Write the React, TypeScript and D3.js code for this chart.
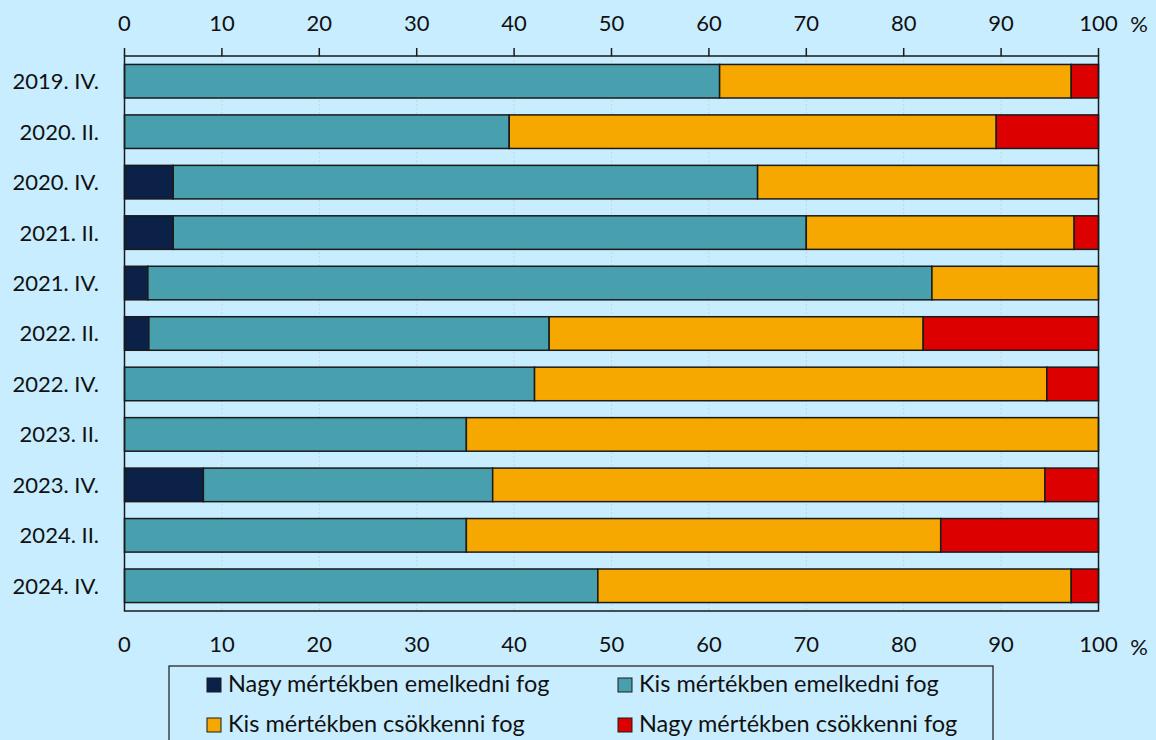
import * as d3 from "d3";

const WIDTH = 1156;
const HEIGHT = 740;

const periods = [
  "2019. IV.",
  "2020. II.",
  "2020. IV.",
  "2021. II.",
  "2021. IV.",
  "2022. II.",
  "2022. IV.",
  "2023. II.",
  "2023. IV.",
  "2024. II.",
  "2024. IV.",
];

const seriesNames = [
  "Nagy mértékben emelkedni fog",
  "Kis mértékben emelkedni fog",
  "Kis mértékben csökkenni fog",
  "Nagy mértékben csökkenni fog",
];
const seriesColors = ["#0c2148", "#48a0af", "#f6a800", "#dc0000"];

const bigRise = [0, 0, 5.0, 5.0, 2.4, 2.5, 0, 0, 8.1, 0, 0];
const smallRise = [61.1, 39.5, 60.0, 65.0, 80.5, 41.1, 42.1, 35.1, 29.7, 35.1, 48.6];
const smallFall = [36.1, 50.0, 35.0, 27.5, 17.1, 38.4, 52.6, 64.9, 56.7, 48.7, 48.6];
const bigFall = [2.8, 10.5, 0, 2.5, 0, 18.0, 5.3, 0, 5.5, 16.2, 2.8];

const xTicks = [0, 10, 20, 30, 40, 50, 60, 70, 80, 90, 100];

const rows = periods.map((p, i) => ({
  period: p,
  v0: bigRise[i],
  v1: smallRise[i],
  v2: smallFall[i],
  v3: bigFall[i],
}));

const stack = d3.stack<any>().keys(["v0", "v1", "v2", "v3"]);
const stacked = stack(rows);

const x = d3.scaleLinear().domain([0, 100]).range([124.5, 1098.5]);
const y = d3
  .scaleBand()
  .domain(periods)
  .range([56, 611])
  .paddingInner(0.335)
  .paddingOuter(0.1675);

const FONT = "Lato, 'Open Sans', sans-serif";
const TEXT = "#111";
const FS = 22;

export default function App() {
  const [left, right] = x.range();
  const [top, bottom] = y.range();
  return (
    <svg
      width={WIDTH}
      height={HEIGHT}
      style={{ position: "absolute", left: 0, top: 0, background: "#c8edff" }}
      fontFamily={FONT}
    >
      <rect width={WIDTH} height={HEIGHT} fill="#c8edff" />
      {/* gridlines */}
      {xTicks.slice(1, -1).map((t) => (
        <line
          key={"g" + t}
          x1={x(t)}
          x2={x(t)}
          y1={top}
          y2={bottom}
          stroke="#c9d3da"
          strokeWidth={1}
          strokeDasharray="2,2"
        />
      ))}
      {/* bars */}
      {stacked.map((layer, si) => (
        <g key={layer.key} fill={seriesColors[si]}>
          {layer.map((d, i) =>
            d[1] - d[0] > 0 ? (
              <rect
                key={i}
                x={x(d[0])}
                y={y(periods[i])}
                width={x(d[1]) - x(d[0])}
                height={y.bandwidth()}
                stroke="#1a1a1a"
                strokeWidth={1.5}
              />
            ) : null
          )}
        </g>
      ))}
      {/* frame */}
      <rect
        x={left}
        y={top}
        width={right - left}
        height={bottom - top}
        fill="none"
        stroke="#1a1a1a"
        strokeWidth={1.5}
      />
      {/* top ticks */}
      {xTicks.map((t) => (
        <line
          key={"t" + t}
          x1={x(t)}
          x2={x(t)}
          y1={top - 8}
          y2={top}
          stroke="#1a1a1a"
          strokeWidth={1.5}
        />
      ))}
      {/* tick labels top and bottom */}
      {xTicks.map((t) => (
        <g key={"l" + t} fontSize={FS} fill={TEXT} textAnchor="middle">
          <text x={x(t)} y={31}>
            {t}
          </text>
          <text x={x(t)} y={652}>
            {t}
          </text>
        </g>
      ))}
      <text x={1139} y={32} fontSize={FS} fill={TEXT} textAnchor="middle">
        %
      </text>
      <text x={1139} y={655} fontSize={FS} fill={TEXT} textAnchor="middle">
        %
      </text>
      {/* category labels */}
      {periods.map((p) => (
        <text
          key={p}
          x={99}
          y={y(p)! + y.bandwidth() / 2}
          dy="0.36em"
          fontSize={FS}
          fill={TEXT}
          textAnchor="end"
        >
          {p}
        </text>
      ))}
      {/* legend */}
      <rect
        x={169}
        y={666}
        width={824}
        height={90}
        fill="none"
        stroke="#1a1a1a"
        strokeWidth={1.2}
      />
      {seriesNames.map((name, i) => {
        const col = i === 1 || i === 3 ? 1 : 0;
        const row = i < 2 ? 0 : 1;
        const lx = col === 0 ? 207 : 618;
        const ly = 678 + row * 40;
        return (
          <g key={name}>
            <rect
              x={lx}
              y={ly}
              width={14}
              height={14}
              fill={seriesColors[i]}
              stroke="#1a1a1a"
              strokeWidth={1}
            />
            <text x={lx + 21} y={ly + 14} fontSize={23.5} fill={TEXT}>
              {name}
            </text>
          </g>
        );
      })}
    </svg>
  );
}
